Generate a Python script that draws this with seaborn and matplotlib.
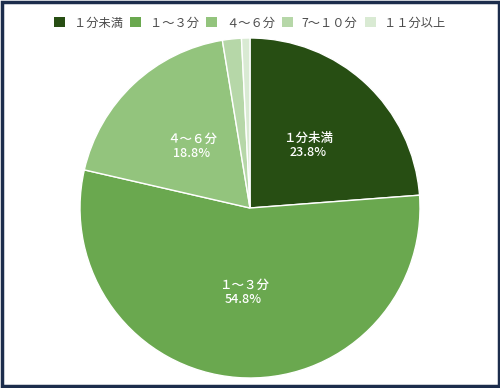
import matplotlib
matplotlib.use("Agg")
import matplotlib.pyplot as plt
from matplotlib.patches import Patch, Rectangle
import numpy as np
import seaborn as sns

categories = ["１分未満", "１～３分", "４～６分", "7～１０分", "１１分以上"]
values = [23.8, 54.8, 18.8, 1.8, 0.8]
colors = ["#274e13", "#6aa84f", "#93c47d", "#b6d7a8", "#d9ead3"]

sns.set_theme(style="white")
plt.rcParams['font.family'] = ['Noto Sans CJK JP', 'DejaVu Sans']

fig = plt.figure(figsize=(5, 3.88), dpi=100)
fig.patch.set_facecolor("white")

ax = fig.add_axes([80/500, 10/388, 340/500, 340/388])
ax.pie(values, colors=colors, startangle=90, counterclock=False,
       wedgeprops=dict(edgecolor="white", linewidth=1.0))

total = sum(values)
theta = 90.0
for cat, v in zip(categories, values):
    frac = v / total
    mid = np.deg2rad(theta - frac * 180)
    theta -= frac * 360
    if v < 5:
        continue
    r = 0.5
    ax.text(r*np.cos(mid), r*np.sin(mid), f"{cat}\n{v:.1f}%", ha="center", va="center",
            color="white", fontsize=9, fontweight="medium", linespacing=1.1)
ax.set_xlim(-1, 1)
ax.set_ylim(-1, 1)
ax.set_aspect("equal")

handles = [Patch(facecolor=c, edgecolor="none") for c in colors]
fig.legend(handles, categories, loc="center", bbox_to_anchor=(0.5, 1 - 23/388),
           ncol=5, frameon=False, fontsize=8.8, handlelength=0.9, handleheight=0.9,
           handletextpad=0.7, columnspacing=0.6, labelcolor="#4a4a4a")

fig.add_artist(Rectangle((0.003, 0.004), 0.994, 0.992, transform=fig.transFigure,
                         fill=False, edgecolor="#1c2d4c", linewidth=2.5))

fig.savefig("out.png", dpi=100)
